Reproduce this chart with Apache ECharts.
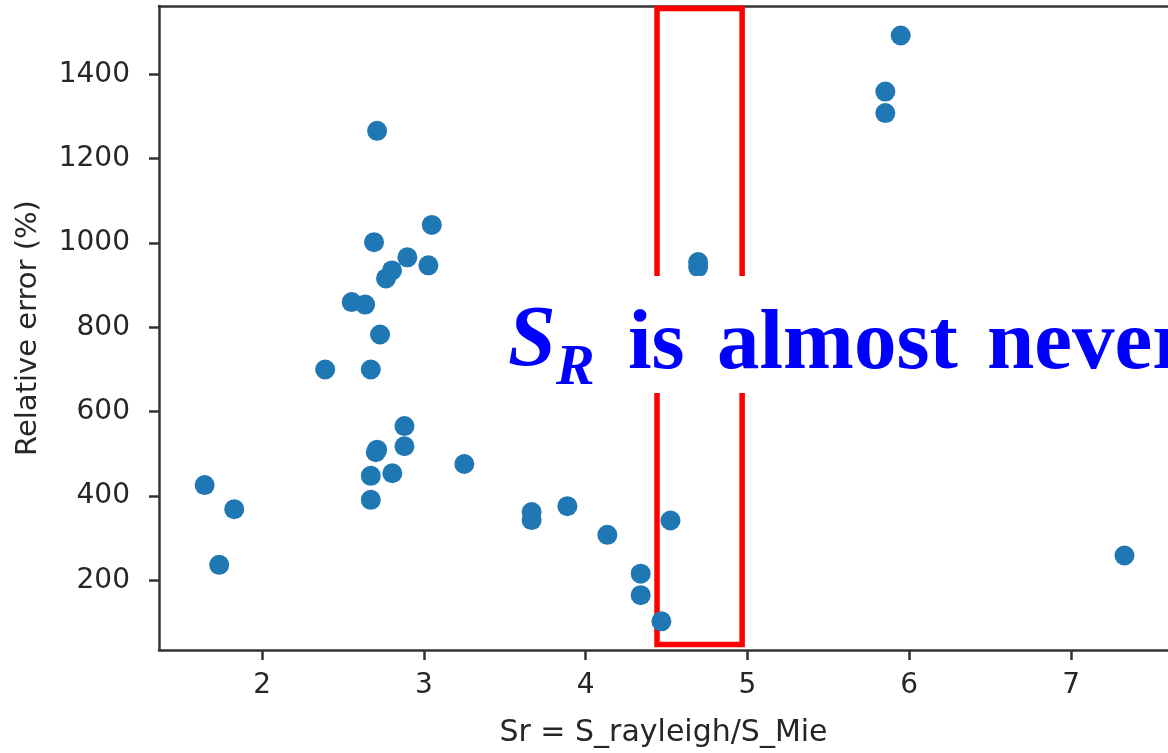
<!DOCTYPE html>
<html>
<head>
<meta charset="utf-8">
<script src="https://cdn.jsdelivr.net/npm/echarts@6/dist/echarts.min.js"></script>
<style>
html,body{margin:0;padding:0;background:#fff;}
#chart{width:1168px;height:753px;}
</style>
</head>
<body>
<div id="chart"></div>
<script>
// ---- data ----
const srValues = [1.645, 1.735, 1.828, 2.390, 2.554, 2.637, 2.672, 2.672, 2.672, 2.692,
                  2.711, 2.711, 2.703, 2.729, 2.766, 2.803, 2.805, 2.880, 2.880, 2.898,
                  3.028, 3.049, 3.250, 3.666, 3.666, 3.887, 4.134, 4.340, 4.340, 4.468,
                  4.524, 4.695, 4.695, 5.852, 5.852, 5.947, 7.330];
const errValues = [426, 237, 369, 700, 860, 854, 700, 448, 391, 1002,
                   1266, 510, 504, 783, 916, 935, 454, 566, 518, 966,
                   947, 1043, 476, 362, 343, 376, 308, 216, 165, 103,
                   342, 955, 943, 1359, 1308, 1492, 259];
const xTicks = [2, 3, 4, 5, 6, 7];
const yTicks = [200, 400, 600, 800, 1000, 1200, 1400];
const boxSr = [4.441, 4.967];
const boxErr = [48, 1556];
const xName = 'Sr = S_rayleigh/S_Mie';
const yName = 'Relative error (%)';
const noteMain = 'S';
const noteSub = 'R';
const noteWords = ['is', 'almost', 'never'];

const chart = echarts.init(document.getElementById('chart'), null, {renderer: 'canvas'});
const points = srValues.map((x, i) => [x, errValues[i]]);
const axisColor = '#333';
const textColor = '#262626';
const labelFont = '"DejaVu Sans", sans-serif';
const xMin = 1.363, xMax = 7.599;

const wordX = [628, 717, 987];
const wordEls = noteWords.map((w, i) => ({
  type: 'text', z: 101, x: wordX[i], y: 346,
  style: {text: w, font: 'bold 85px "Liberation Serif", serif', fill: '#0000ff',
          align: 'left', verticalAlign: 'middle'}
}));

chart.setOption({
  animation: false,
  backgroundColor: '#fff',
  grid: {left: 159, top: 6, right: 0, bottom: 101, show: false},
  xAxis: [{
    type: 'value', min: xMin, max: xMax,
    name: xName, nameLocation: 'middle', nameGap: 68,
    nameTextStyle: {fontFamily: labelFont, fontSize: 30, color: textColor},
    axisLine: {show: true, onZero: false, lineStyle: {color: axisColor, width: 2.5}},
    axisTick: {show: true, length: 10, lineStyle: {color: axisColor, width: 2.5}, customValues: xTicks},
    axisLabel: {fontFamily: labelFont, fontSize: 28, color: textColor, margin: 22, customValues: xTicks,
                formatter: v => String(v)},
    splitLine: {show: false}
  }, {
    type: 'value', position: 'top', min: xMin, max: xMax,
    axisLine: {show: true, onZero: false, lineStyle: {color: axisColor, width: 2.5}},
    axisTick: {show: false}, axisLabel: {show: false}, splitLine: {show: false}
  }],
  yAxis: {
    type: 'value', min: 35, max: 1562,
    name: yName, nameLocation: 'middle', nameGap: 116,
    nameTextStyle: {fontFamily: labelFont, fontSize: 29, color: textColor},
    axisLine: {show: true, onZero: false, lineStyle: {color: axisColor, width: 2.5}},
    axisTick: {show: true, length: 10, lineStyle: {color: axisColor, width: 2.5}, customValues: yTicks},
    axisLabel: {fontFamily: labelFont, fontSize: 28, color: textColor, margin: 29, customValues: yTicks,
                formatter: v => String(v)},
    splitLine: {show: false}
  },
  series: [{
    type: 'scatter',
    data: points,
    symbol: 'circle',
    symbolSize: 20,
    itemStyle: {color: '#1f77b4', opacity: 1},
    z: 3,
    markArea: {
      silent: true,
      z: 2,
      itemStyle: {color: 'rgba(0,0,0,0)', borderColor: '#ff0000', borderWidth: 5.5},
      data: [[{coord: [boxSr[0], boxErr[1]]}, {coord: [boxSr[1], boxErr[0]]}]]
    }
  }],
  graphic: {
    elements: [
      {type: 'rect', z: 100, shape: {x: 492, y: 276, width: 720, height: 117}, style: {fill: '#ffffff'}},
      {type: 'text', z: 101, x: 508, y: 343,
       style: {text: noteMain, font: 'italic bold 86px "Liberation Serif", serif', fill: '#0000ff',
               align: 'left', verticalAlign: 'middle'}},
      {type: 'text', z: 101, x: 556, y: 369,
       style: {text: noteSub, font: 'italic bold 58px "Liberation Serif", serif', fill: '#0000ff',
               align: 'left', verticalAlign: 'middle'}}
    ].concat(wordEls)
  }
});
</script>
</body>
</html>
